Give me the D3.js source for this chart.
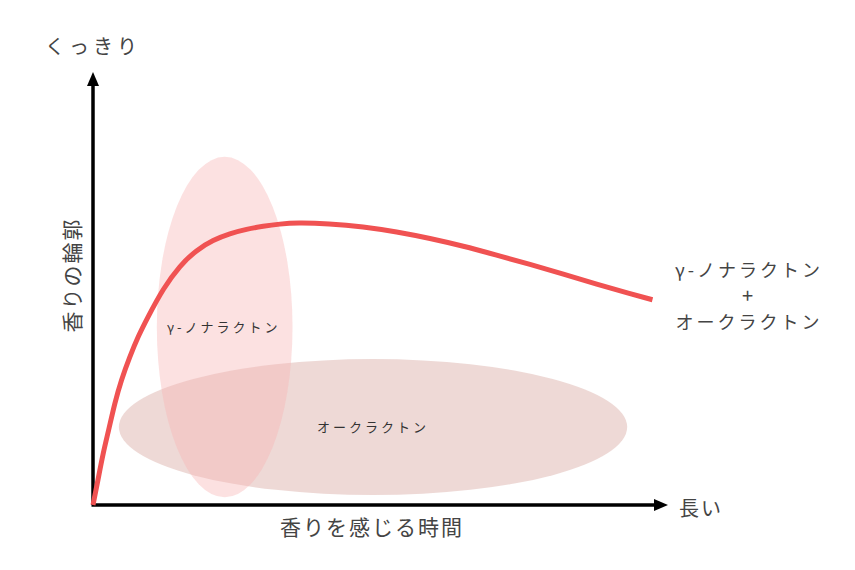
<!DOCTYPE html>
<html><head><meta charset="utf-8">
<script src="https://cdn.jsdelivr.net/npm/d3@7"></script>
<style>body{margin:0;background:#fff}</style>
</head><body>
<svg id="c" width="855" height="570"></svg>
<script>
// curve: time (0-100) vs clarity (0-100)
const curveX = [0, 0.87, 1.74, 2.73, 3.77, 4.92, 6.38, 7.83, 9.5, 12.2, 15.1, 18.0, 20.9, 23.8, 26.7, 29.6, 32.5, 35.4, 41.0, 47.0, 52.8, 58.6, 64.4, 70.2, 76.0, 81.8, 87.6, 93.4, 97.3];
const curveY = [0, 5.8, 11.9, 17.3, 23.5, 28.9, 34.2, 38.9, 43.3, 50.0, 55.3, 58.9, 61.2, 62.7, 63.7, 64.4, 64.9, 65.2, 65.0, 64.3, 63.1, 61.6, 59.8, 57.7, 55.6, 53.3, 51.0, 48.8, 47.4];
// regions: name, center x, center y, radius x, radius y
const regionNames = ["オークラクトン", "γ-ノナラクトン"];
const regionCx = [48.7, 22.9];
const regionCy = [18.0, 41.1];
const regionRx = [44.2, 11.8];
const regionRy = [15.7, 39.3];
const yAxisTop = "くっきり";
const yAxisTitle = "香りの輪郭";
const xAxisEnd = "長い";
const xAxisTitle = "香りを感じる時間";
const curveLabel = ["γ-ノナラクトン", "+", "オークラクトン"];

const svg = d3.select("#c");
const x = d3.scaleLinear().domain([0, 100]).range([93, 668]);
const y = d3.scaleLinear().domain([0, 100]).range([505, 72]);
const font = "'Noto Sans CJK JP','Noto Sans',sans-serif";
const regionFill = ["rgba(222,180,174,0.5)", "rgba(248,180,180,0.4)"];

regionNames.forEach((n, i) => {
  svg.append("ellipse")
    .attr("cx", x(regionCx[i])).attr("cy", y(regionCy[i]))
    .attr("rx", x(regionRx[i]) - x(0)).attr("ry", y(0) - y(regionRy[i]))
    .attr("fill", regionFill[i]);
});

// axes
svg.append("line").attr("x1", x(0)).attr("y1", y(0)).attr("x2", x(0)).attr("y2", y(100) + 12)
  .attr("stroke", "#000").attr("stroke-width", 3.5);
svg.append("path").attr("d", `M${x(0)},${y(100)} L${x(0)-6},${y(100)+14} L${x(0)+6},${y(100)+14} Z`).attr("fill", "#000");
svg.append("line").attr("x1", x(0) - 1.5).attr("y1", y(0)).attr("x2", x(100) - 12).attr("y2", y(0))
  .attr("stroke", "#000").attr("stroke-width", 3.5);
svg.append("path").attr("d", `M${x(100)},${y(0)} L${x(100)-14},${y(0)-6} L${x(100)-14},${y(0)+6} Z`).attr("fill", "#000");

// curve
const line = d3.line().x((d, i) => x(curveX[i])).y((d, i) => y(curveY[i])).curve(d3.curveBasis);
svg.append("path").datum(curveX).attr("d", line)
  .attr("fill", "none").attr("stroke", "#f05252").attr("stroke-width", 5).attr("stroke-linecap", "butt");

// region labels
regionNames.forEach((n, i) => {
  svg.append("text").attr("x", x(regionCx[i]) + (i === 1 ? -1 : 0)).attr("y", y(regionCy[i]) + 5)
    .attr("text-anchor", "middle").attr("font-family", font).attr("font-size", 13)
    .attr("letter-spacing", 3).attr("fill", "#333").text(n);
});

// axis texts
svg.append("text").attr("x", 93).attr("y", 54).attr("text-anchor", "middle")
  .attr("font-family", font).attr("font-size", 20).attr("letter-spacing", 4).attr("fill", "#444").text(yAxisTop);
svg.append("text").attr("transform", "translate(80,275) rotate(-90)").attr("text-anchor", "middle")
  .attr("font-family", font).attr("font-size", 21).attr("letter-spacing", 2).attr("fill", "#444").text(yAxisTitle);
svg.append("text").attr("x", 679).attr("y", 516)
  .attr("font-family", font).attr("font-size", 20).attr("letter-spacing", 2).attr("fill", "#444").text(xAxisEnd);
svg.append("text").attr("x", 372).attr("y", 535).attr("text-anchor", "middle")
  .attr("font-family", font).attr("font-size", 21).attr("letter-spacing", 2).attr("fill", "#444").text(xAxisTitle);

curveLabel.forEach((t, i) => {
  svg.append("text").attr("x", 749).attr("y", 277 + i * 26).attr("text-anchor", "middle")
    .attr("font-family", font).attr("font-size", i === 1 ? 20 : 18).attr("letter-spacing", 3)
    .attr("fill", "#444").text(t);
});
</script>
</body></html>
